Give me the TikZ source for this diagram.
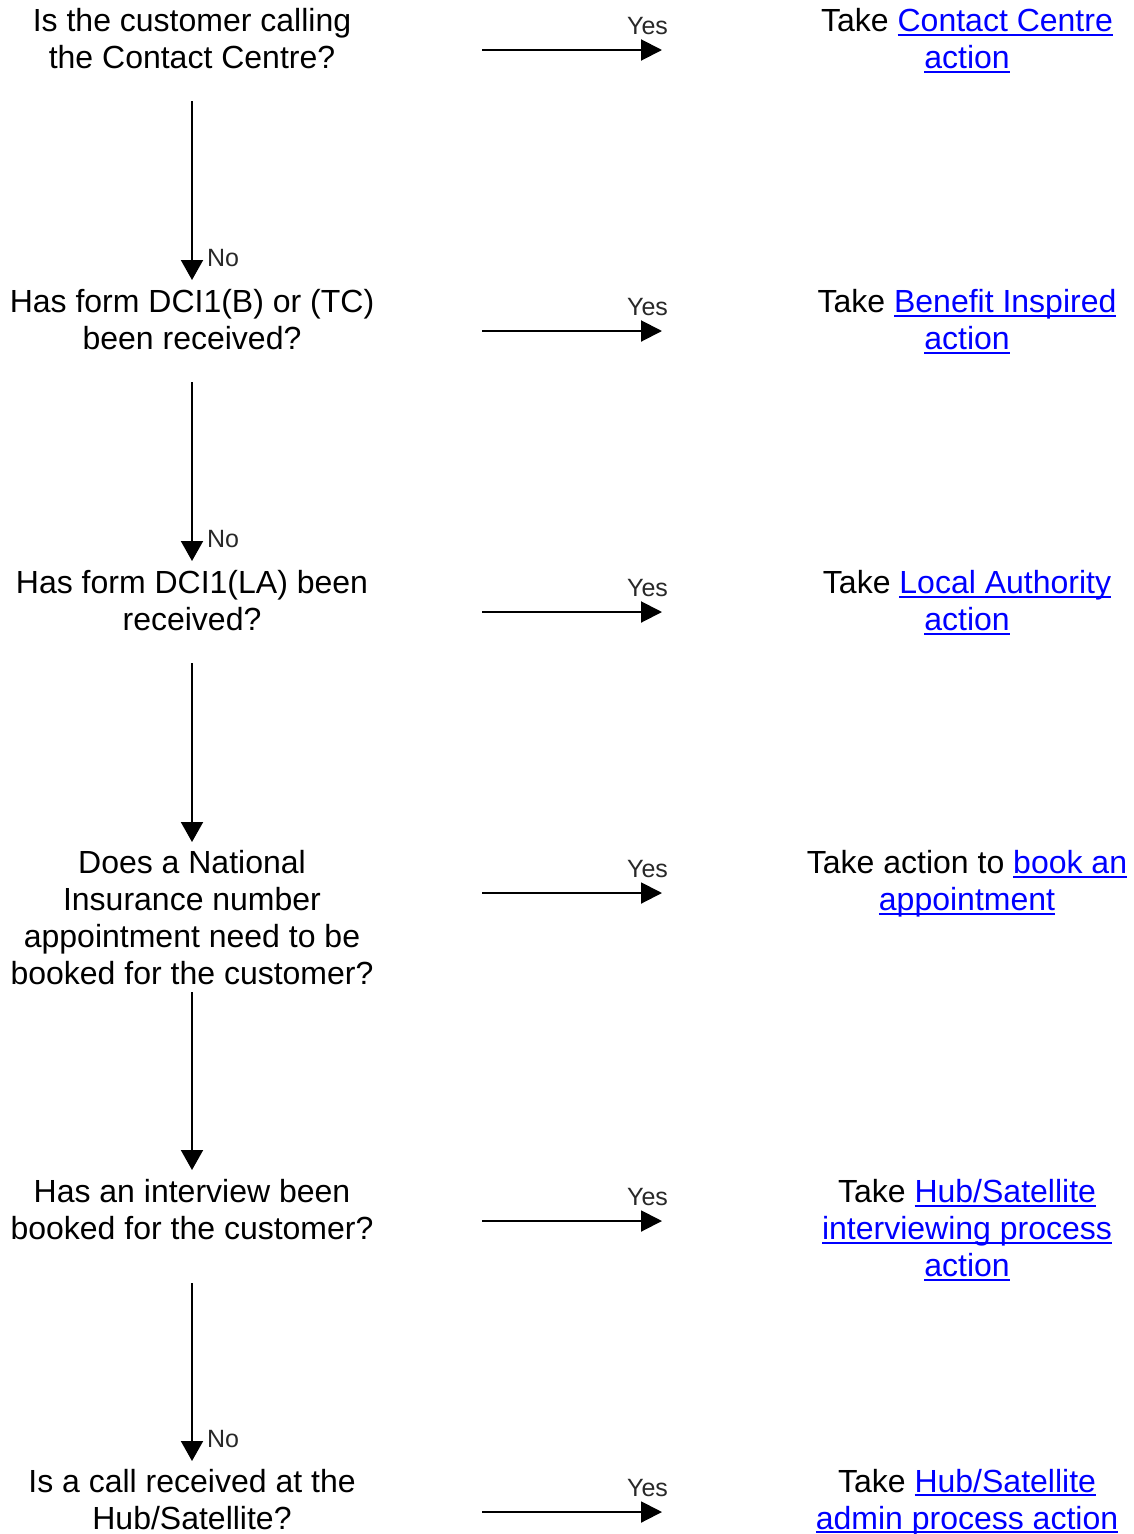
\documentclass[tikz,border=0pt]{standalone}
\usepackage{fontspec}
\setmainfont{Liberation Sans}
\usetikzlibrary{arrows.meta}
\definecolor{linkblue}{RGB}{0,0,255}
\definecolor{labelgrey}{RGB}{40,40,40}
% underlined hyperlink-style text
\newcommand\ulink[1]{{\color{linkblue}\setbox0\hbox{#1}\rlap{\rule[-4pt]{\wd0}{2pt}}\box0}}
\tikzset{
  question/.style={inner sep=0pt, align=center, font=\fontsize{32}{37}\selectfont},
  answer/.style={inner sep=0pt, align=center, font=\fontsize{32}{37}\selectfont},
  flow/.style={line width=2pt, -{Triangle[length=21pt,width=21pt]}},
  branch/.style={inner sep=0pt, text=labelgrey, font=\fontsize{25}{27}\selectfont},
}
\begin{document}
\begin{tikzpicture}[x=1pt,y=-1pt]
\useasboundingbox (0,0) rectangle (1134,1534);

% questions (left column)
\node[question] (q1) at (192,38.5) {Is the customer calling\\the Contact Centre?};
\node[question] (q2) at (192,319.5) {Has form DCI1(B) or (TC)\\been received?};
\node[question] (q3) at (192,600.5) {Has form DCI1(LA) been\\received?};
\node[question] (q4) at (192,918) {Does a National\\Insurance number\\appointment need to be\\booked for the customer?};
\node[question] (q5) at (192,1209.5) {Has an interview been\\booked for the customer?};
\node[question] (q6) at (192,1500) {Is a call received at the\\Hub/Satellite?};

% actions (right column)
\node[answer] (a1) at (967,40.5) {Take \ulink{Contact Centre}\\\ulink{action}};
\node[answer] (a2) at (967,321.5) {Take \ulink{Benefit Inspired}\\\ulink{action}};
\node[answer] (a3) at (967,602.5) {Take \ulink{Local Authority}\\\ulink{action}};
\node[answer] (a4) at (967,884) {Take action to \ulink{book an}\\\ulink{appointment}};
\node[answer] (a5) at (967,1230) {Take \ulink{Hub/Satellite}\\\ulink{interviewing process}\\\ulink{action}};
\node[answer] (a6) at (967,1502.5) {Take \ulink{Hub/Satellite}\\\ulink{admin process action}};

% "Yes" arrows
\foreach \i/\y in {1/50,2/331,3/612,4/893,5/1221,6/1512}{
  \coordinate (ys\i) at (482,\y);
  \coordinate (ye\i) at (662,\y);
  \draw[flow] (ys\i) -- (ye\i);
  \node[branch] (yes\i) at (647.5,\y-23.5) {Yes};
}

% downward arrows
\foreach \i/\a/\b in {1/101/280,2/382/561,3/663/842,4/992/1170,5/1283/1461}{
  \coordinate (ds\i) at (192,\a);
  \coordinate (de\i) at (192,\b);
  \draw[flow,-{Triangle[length=20pt,width=22pt]}] (ds\i) -- (de\i);
}
\node[branch] (no1) at (223,258) {No};
\node[branch] (no2) at (223,539) {No};
\node[branch] (no5) at (223,1439) {No};
\end{tikzpicture}
\end{document}
